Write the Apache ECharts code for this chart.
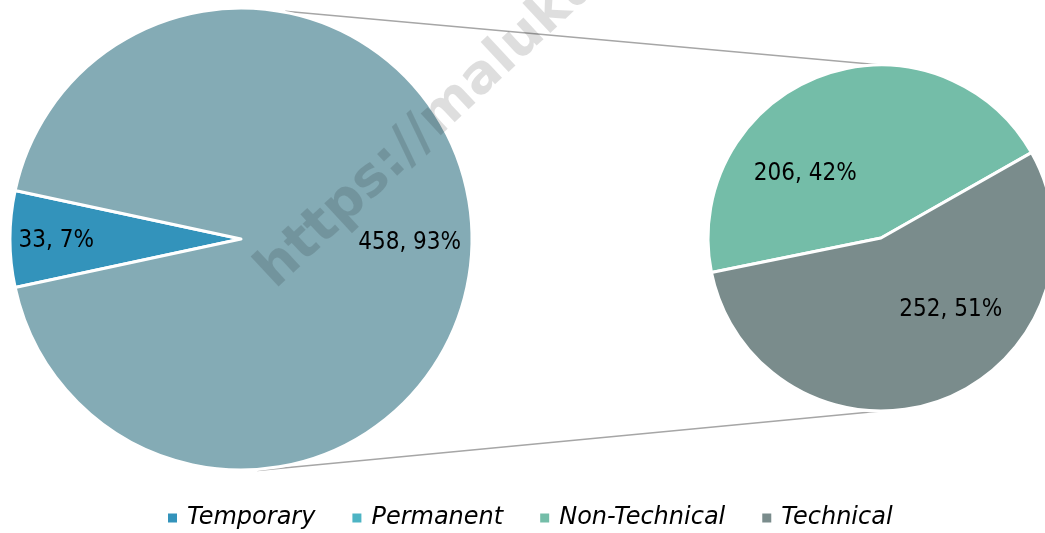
<!DOCTYPE html>
<html>
<head>
<meta charset="utf-8">
<title>Pie of pie</title>
<script src="https://cdn.jsdelivr.net/npm/echarts@6/dist/echarts.min.js"></script>
<style>
  html, body { margin: 0; padding: 0; background: #fff; }
  #main { width: 1045px; height: 533px; }
</style>
</head>
<body>
<div id="main"></div>
<script>
// data
var categories = ['Temporary', 'Permanent', 'Non-Technical', 'Technical'];
var mainValues = [33, 458];        // Temporary, Permanent
var splitValues = [206, 252];      // Permanent split: Non-Technical, Technical
var watermark = 'https://malukuprov.go.id';

var colors = ['#3393bb', '#4db4c4', '#74bda8', '#7a8c8c'];
var permanentSlice = '#84abb5';

// layout (px)
var C1 = [241, 239], R1 = 231;
var C2 = [881, 238], R2 = 173;
// label placement: [angle deg, fraction of radius]
var labelPos = [
  [[180, 0.80], [-0.5, 0.73]],
  [[139, 0.58], [-45, 0.57]]
];

var total = mainValues[0] + mainValues[1];
var FONT = "'DejaVu Sans Condensed', 'DejaVu Sans', sans-serif";

function polar(c, r, deg) {
  var a = deg * Math.PI / 180;
  return [c[0] + r * Math.cos(a), c[1] - r * Math.sin(a)];
}

var labelCfg = {
  show: true,
  position: 'inside',
  color: '#000',
  fontSize: 24,
  fontFamily: FONT,
  formatter: function (p) {
    return p.value + ', ' + Math.round(p.value / total * 100) + '%';
  }
};

function layoutLabel(params) {
  var lp = labelPos[params.seriesIndex][params.dataIndex];
  var c = params.seriesIndex === 0 ? C1 : C2;
  var r = params.seriesIndex === 0 ? R1 : R2;
  var pt = polar(c, r * lp[1], lp[0]);
  return { x: pt[0], y: pt[1] + 2, align: 'center', verticalAlign: 'middle' };
}

var topA = polar(C1, R1 + 1, 79);
var botA = polar(C1, R1 + 1, -86);

var chart = echarts.init(document.getElementById('main'), null, { renderer: 'canvas' });

var option = {
  animation: false,
  backgroundColor: '#fff',
  legend: {
    top: 506,
    left: 168,
    padding: 0,
    icon: 'rect',
    itemWidth: 9,
    itemHeight: 9,
    itemGap: 37,
    itemStyle: { borderWidth: 0 },
    textStyle: {
      fontSize: 24,
      fontStyle: 'italic',
      fontFamily: "'DejaVu Sans', sans-serif",
      color: '#000',
      padding: [0, 0, 0, 5]
    },
    data: categories.map(function (n, i) {
      return { name: n, itemStyle: { color: colors[i], borderWidth: 0 } };
    })
  },
  graphic: [
    {
      type: 'line', z: 1,
      shape: { x1: topA[0], y1: topA[1], x2: C2[0], y2: C2[1] - R2 },
      style: { stroke: '#a6a6a6', lineWidth: 1.5 }
    },
    {
      type: 'line', z: 1,
      shape: { x1: botA[0], y1: botA[1], x2: C2[0], y2: C2[1] + R2 },
      style: { stroke: '#a6a6a6', lineWidth: 1.5 }
    },
    {
      type: 'text', z: 100,
      x: 284, y: 299,
      rotation: 43 * Math.PI / 180,
      style: {
        text: watermark,
        fill: 'rgba(0,0,0,0.13)',
        font: "bold 54px 'DejaVu Sans', sans-serif",
        textAlign: 'left',
        textVerticalAlign: 'bottom'
      }
    }
  ],
  series: [
    {
      name: 'Employment',
      type: 'pie',
      center: C1,
      radius: [0, R1],
      startAngle: 180 + 180 * mainValues[0] / total,
      clockwise: true,
      avoidLabelOverlap: false,
      itemStyle: { borderColor: '#fff', borderWidth: 3 },
      label: labelCfg,
      labelLine: { show: false },
      labelLayout: layoutLabel,
      emphasis: { disabled: true },
      data: [
        { name: categories[0], value: mainValues[0], itemStyle: { color: colors[0] } },
        { name: categories[1], value: mainValues[1], itemStyle: { color: permanentSlice } }
      ]
    },
    {
      name: 'Permanent',
      type: 'pie',
      center: C2,
      radius: [0, R2],
      startAngle: 191.5,
      clockwise: true,
      avoidLabelOverlap: false,
      itemStyle: { borderColor: '#fff', borderWidth: 3 },
      label: labelCfg,
      labelLine: { show: false },
      labelLayout: layoutLabel,
      emphasis: { disabled: true },
      data: [
        { name: categories[2], value: splitValues[0], itemStyle: { color: colors[2] } },
        { name: categories[3], value: splitValues[1], itemStyle: { color: colors[3] } }
      ]
    }
  ]
};

chart.setOption(option);
</script>
</body>
</html>
